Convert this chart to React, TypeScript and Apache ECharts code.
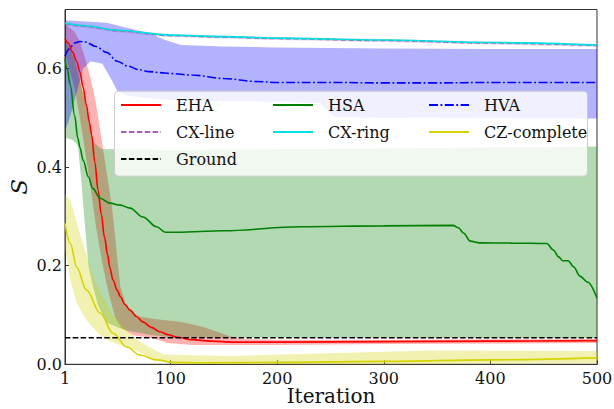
import React, { useEffect, useRef } from "react";
import * as echarts from "echarts";

const FONT = "DejaVu Serif";

const xTicks = [1, 100, 200, 300, 400, 500];
const yTicks = [0, 0.2, 0.4, 0.6];

// EHA
const ehaX = [1, 4, 8, 12, 15, 18, 21, 24, 26, 29, 32, 35, 38, 41, 43, 46, 50, 53, 57, 62, 68, 74, 82, 90, 98, 106, 120, 137, 160, 200, 300, 400, 500];
const ehaY = [0.661, 0.652, 0.634, 0.615, 0.593, 0.562, 0.526, 0.49, 0.465, 0.41, 0.353, 0.305, 0.258, 0.222, 0.197, 0.171, 0.15, 0.137, 0.122, 0.11, 0.097, 0.086, 0.075, 0.066, 0.06, 0.055, 0.05, 0.047, 0.045, 0.045, 0.046, 0.047, 0.048];
const ehaUpX = [1, 10, 15, 20, 25, 30, 35, 40, 45, 48, 50, 53, 59, 70, 85, 110, 130, 145, 158, 170, 200, 300, 500];
const ehaUpY = [0.69, 0.675, 0.655, 0.62, 0.58, 0.53, 0.46, 0.39, 0.32, 0.26, 0.215, 0.157, 0.116, 0.097, 0.092, 0.086, 0.076, 0.065, 0.055, 0.051, 0.05, 0.05, 0.051];
const ehaLoX = [1, 5, 10, 15, 20, 25, 30, 36, 42, 48, 54, 65, 84, 97, 120, 200, 300, 500];
const ehaLoY = [0.63, 0.6, 0.56, 0.5, 0.43, 0.36, 0.28, 0.205, 0.144, 0.096, 0.073, 0.059, 0.053, 0.043, 0.039, 0.039, 0.041, 0.043];

// HSA
const hsaX = [1, 3, 6, 10, 13, 15, 18, 23, 27, 34, 43, 53, 62, 74, 87, 95, 106, 150, 222, 300, 365, 370, 375, 381, 390, 420, 453, 459, 464, 468, 473, 478, 484, 491, 500];
const hsaY = [0.62, 0.6, 0.566, 0.505, 0.459, 0.44, 0.414, 0.38, 0.357, 0.337, 0.327, 0.323, 0.317, 0.299, 0.279, 0.268, 0.268, 0.271, 0.279, 0.281, 0.282, 0.277, 0.266, 0.25, 0.2465, 0.246, 0.245, 0.232, 0.218, 0.21, 0.21, 0.198, 0.179, 0.167, 0.134];
const hsaUpX = [1, 10, 20, 28, 35, 100, 300, 500];
const hsaUpY = [0.66, 0.62, 0.53, 0.45, 0.437, 0.435, 0.438, 0.442];
const hsaLoX = [1, 8, 13, 16, 19, 23, 27, 32, 40, 50, 60, 80, 100, 500];
const hsaLoY = [0.46, 0.455, 0.445, 0.38, 0.3, 0.2, 0.16, 0.12, 0.085, 0.075, 0.068, 0.06, 0.055, 0.053];

// HVA
const hvaX = [1, 5, 10, 15, 20, 30, 40, 50, 60, 70, 80, 90, 100, 120, 150, 180, 200, 250, 300, 350, 400, 450, 500];
const hvaY = [0.625, 0.64, 0.652, 0.655, 0.654, 0.645, 0.633, 0.615, 0.605, 0.598, 0.594, 0.592, 0.59, 0.587, 0.58, 0.574, 0.572, 0.572, 0.571, 0.571, 0.572, 0.572, 0.572];
const hvaUpX = [1, 40, 59, 80, 95, 110, 150, 200, 300, 400, 500];
const hvaUpY = [0.698, 0.693, 0.683, 0.672, 0.658, 0.648, 0.645, 0.643, 0.641, 0.64, 0.64];
const hvaLoX = [1, 4, 8, 13, 18, 25, 36, 44, 50, 60, 80, 110, 200, 240, 254, 300, 500];
const hvaLoY = [0.475, 0.49, 0.52, 0.56, 0.6, 0.615, 0.61, 0.58, 0.555, 0.545, 0.54, 0.535, 0.533, 0.53, 0.502, 0.5, 0.499];

// CX-line / CX-ring
const cxX = [1, 20, 50, 100, 150, 200, 300, 400, 500];
const cxLineY = [0.691, 0.686, 0.677, 0.667, 0.664, 0.661, 0.657, 0.652, 0.647];
const cxRingY = [0.692, 0.687, 0.678, 0.668, 0.665, 0.662, 0.658, 0.653, 0.648];
const cxUpY = [0.694, 0.689, 0.68, 0.67, 0.667, 0.664, 0.66, 0.655, 0.65];
const cxLoY = [0.688, 0.683, 0.674, 0.664, 0.661, 0.658, 0.654, 0.649, 0.644];

// CZ-complete
const czX = [1, 6, 12, 21, 34, 46, 59, 71, 87, 102, 130, 200, 300, 400, 500];
const czY = [0.286, 0.245, 0.197, 0.151, 0.104, 0.063, 0.035, 0.019, 0.009, 0.004, 0.003, 0.004, 0.006, 0.009, 0.013];
const czUpX = [1, 6, 16, 21, 26, 32, 37, 46, 56, 69, 85, 94, 156, 344, 500];
const czUpY = [0.345, 0.333, 0.258, 0.225, 0.185, 0.155, 0.135, 0.1, 0.076, 0.049, 0.029, 0.02, 0.017, 0.028, 0.027];
const czLoX = [1, 3, 6, 12, 21, 32, 37, 43, 50, 69, 81, 90, 100, 150, 300, 500];
const czLoY = [0.235, 0.211, 0.171, 0.124, 0.09, 0.063, 0.055, 0.047, 0.041, 0.027, 0.013, 0.008, 0.002, 0.0, 0.0, 0.002];

// Ground
const groundX = [1, 500];
const groundY = [0.054, 0.054];

const zip = (xs: number[], ys: number[]) => xs.map((x, i) => [x, ys[i]]);

function band(name: string, ux: number[], uy: number[], lx: number[], ly: number[], color: string, opacity: number) {
  return {
    type: "custom",
    name: name + "-band",
    silent: true,
    z: 1,
    data: [[ux[0], uy[0]]],
    encode: { x: 0, y: 1 },
    renderItem: (_params: any, api: any) => {
      const pts: number[][] = [];
      for (let i = 0; i < ux.length; i++) pts.push(api.coord([ux[i], uy[i]]));
      for (let i = lx.length - 1; i >= 0; i--) pts.push(api.coord([lx[i], ly[i]]));
      return {
        type: "polygon",
        shape: { points: pts },
        style: { fill: color, opacity },
      };
    },
  };
}

function line(name: string, xs: number[], ys: number[], color: string, type: any) {
  return {
    type: "line",
    name,
    data: zip(xs, ys),
    symbol: "none",
    showSymbol: false,
    smooth: 0.35,
    smoothMonotone: "x",
    z: 3,
    lineStyle: { color, width: 1.6, type },
    itemStyle: { color },
  };
}

const legendText = { fontFamily: FONT, fontSize: 16, color: "#111", padding: [0, 0, 0, 10] };

const legendBase = {
  orient: "vertical",
  top: 96,
  padding: 0,
  itemWidth: 40,
  itemHeight: 18,
  itemGap: 9.5,
  selectedMode: false,
  z: 6,
  itemStyle: { opacity: 0 },
  formatter: (n: string) => "{t|" + n + "}",
  textStyle: { fontFamily: FONT, fontSize: 16, color: "#111", rich: { t: legendText } },
};

const tickRich = { t: { fontFamily: FONT, fontSize: 16, color: "#111" } };

export default function App() {
  const ref = useRef<HTMLDivElement>(null);
  useEffect(() => {
    if (!ref.current) return;
    const chart = echarts.init(ref.current, undefined, { renderer: "svg" });
    chart.setOption({
      animation: false,
      backgroundColor: "#ffffff",
      textStyle: { fontFamily: FONT },
      grid: {
        left: 65,
        right: 17,
        top: 9.5,
        bottom: 44.7,
        show: true,
        borderColor: "#333",
        borderWidth: 1,
        containLabel: false,
        outerBoundsMode: "none",
      },
      xAxis: {
        type: "value",
        min: 1,
        max: 500,
        name: "Iteration",
        nameLocation: "middle",
        nameGap: 22,
        nameMoveOverlap: false,
        nameTextStyle: { fontFamily: FONT, fontSize: 20, color: "#111" },
        axisLine: { show: true, lineStyle: { color: "#333" } },
        axisTick: { show: true, inside: true, length: 4, customValues: xTicks, lineStyle: { color: "#333" } },
        axisLabel: {
          customValues: xTicks,
          fontFamily: FONT,
          fontSize: 16,
          color: "#111",
          margin: 6,
          formatter: (v: number) => "{t|" + v + "}",
          rich: tickRich,
        },
        splitLine: { show: false },
      },
      yAxis: {
        type: "value",
        min: 0,
        max: 0.72,
        name: "S",
        nameLocation: "middle",
        nameGap: 35,
        nameMoveOverlap: false,
        nameRotate: 90,
        nameTextStyle: { fontFamily: FONT, fontSize: 23, fontStyle: "italic", color: "#111" },
        axisLine: { show: true, lineStyle: { color: "#333" } },
        axisTick: { show: true, inside: true, length: 4, customValues: yTicks, lineStyle: { color: "#333" } },
        axisLabel: {
          customValues: yTicks,
          fontFamily: FONT,
          fontSize: 16,
          color: "#111",
          margin: 3,
          formatter: (v: number) => "{t|" + v.toFixed(1) + "}",
          rich: tickRich,
        },
        splitLine: { show: false },
      },
      legend: [
        { ...legendBase, left: 120, data: ["EHA", "CX-line", "Ground"] },
        { ...legendBase, left: 272, data: ["HSA", "CX-ring"] },
        { ...legendBase, left: 428, data: ["HVA", "CZ-complete"] },
      ].map((l) => ({ ...l, top: 97, itemGap: 11 })),
      graphic: [
        {
          type: "rect",
          left: 114,
          top: 90.7,
          z: 5,
          shape: { width: 473, height: 85, r: 4 },
          style: { fill: "rgba(255,255,255,0.8)", stroke: "#cccccc", lineWidth: 1 },
        },
      ],
      series: [
        band("EHA", ehaUpX, ehaUpY, ehaLoX, ehaLoY, "#ff0000", 0.3),
        band("HSA", hsaUpX, hsaUpY, hsaLoX, hsaLoY, "#008000", 0.3),
        band("HVA", hvaUpX, hvaUpY, hvaLoX, hvaLoY, "#0000ff", 0.3),
        band("CX-line", cxX, cxUpY, cxX, cxLoY, "#9f5fb0", 0.25),
        band("CZ-complete", czUpX, czUpY, czLoX, czLoY, "#d0d000", 0.3),
        line("EHA", ehaX, ehaY, "#ff0000", "solid"),
        line("HSA", hsaX, hsaY, "#008000", "solid"),
        line("HVA", hvaX, hvaY, "#0000ff", [9, 2.5, 1.8, 2.5]),
        line("CX-line", cxX, cxLineY, "#a060b0", [5.5, 2.4]),
        line("CX-ring", cxX, cxRingY, "#00e0e0", "solid"),
        line("CZ-complete", czX, czY, "#d4d400", "solid"),
        line("Ground", groundX, groundY, "#000000", [5.5, 2.4]),
      ],
    });
    return () => chart.dispose();
  }, []);
  return <div ref={ref} style={{ position: "fixed", left: 0, top: 0, width: 614, height: 409 }} />;
}
